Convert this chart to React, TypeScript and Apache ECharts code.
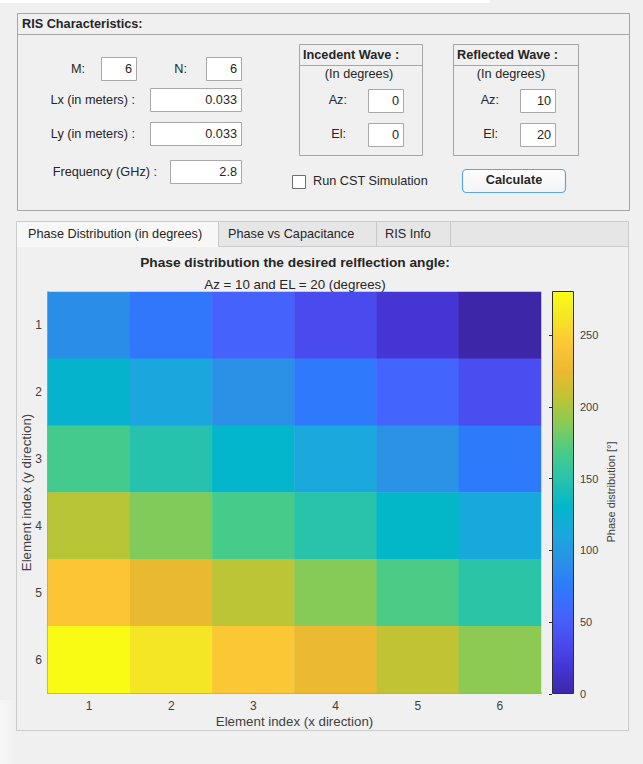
import React, { useEffect, useRef } from "react";
import * as echarts from "echarts";

// Element indices along x (columns) and y (rows, drawn top to bottom)
const X_INDEX = ["1", "2", "3", "4", "5", "6"];
const Y_INDEX = ["1", "2", "3", "4", "5", "6"];

// Phase per element in degrees, one row per y index
const PHASE_ROW_1 = [90.5, 72.4, 54.3, 36.2, 18.1, 0.0];
const PHASE_ROW_2 = [128.4, 110.3, 92.2, 74.1, 56.0, 37.9];
const PHASE_ROW_3 = [166.3, 148.2, 130.1, 112.0, 93.9, 75.8];
const PHASE_ROW_4 = [204.2, 186.1, 168.0, 149.9, 131.8, 113.8];
const PHASE_ROW_5 = [242.1, 224.0, 205.9, 187.8, 169.7, 151.7];
const PHASE_ROW_6 = [280.0, 261.9, 243.9, 225.8, 207.7, 189.6];
const PHASE_ROWS = [PHASE_ROW_1, PHASE_ROW_2, PHASE_ROW_3, PHASE_ROW_4, PHASE_ROW_5, PHASE_ROW_6];

// Colour bar range and ticks
const PHASE_MIN = 0;
const PHASE_MAX = 280;
const PHASE_TICK_STEP = 50;

// Parula-like colour ramp, low to high
const PARULA = [
  "#3e26a8", "#4535d5", "#4a4cf0", "#4465fd", "#2d7afc", "#2a92e6",
  "#1aa8dd", "#02b6ca", "#28c3ab", "#47cb8a", "#83cb5a", "#bbc535",
  "#e9b930", "#fdc536", "#f4e425", "#f9fb15",
];

// Form field values
const M_VALUE = "6";
const N_VALUE = "6";
const LX_VALUE = "0.033";
const LY_VALUE = "0.033";
const FREQ_VALUE = "2.8";
const INC_AZ = "0";
const INC_EL = "0";
const REF_AZ = "10";
const REF_EL = "20";

const FONT = "'Liberation Sans', Arial, Helvetica, sans-serif";
const TXT = "#262626";
const UI_SIZE = 12.7;
const AX_SIZE = 13.3;

type Align = "left" | "right" | "center";

function label(x: number, y: number, text: string, align: Align = "left", bold = false, size = UI_SIZE, fill = TXT) {
  return {
    type: "text",
    x,
    y,
    z: 10,
    style: {
      text,
      fontFamily: FONT,
      fontSize: size,
      fontWeight: bold ? "bold" : "normal",
      fill,
      align,
      verticalAlign: "middle",
    },
  };
}

function field(x: number, y: number, w: number, value: string) {
  return [
    {
      type: "rect",
      z: 5,
      shape: { x: x + 0.5, y: y + 0.5, width: w, height: 23 },
      style: { fill: "#ffffff", stroke: "#a9a9a9", lineWidth: 1 },
    },
    label(x + w - 4, y + 12, value, "right"),
  ];
}

function box(x: number, y: number, w: number, h: number, stroke = "#a5a5a5", fill = "none", z = 2) {
  return {
    type: "rect",
    z,
    shape: { x: x + 0.5, y: y + 0.5, width: w, height: h },
    style: { fill, stroke, lineWidth: 1 },
  };
}

function hline(x1: number, x2: number, y: number, stroke = "#a5a5a5", z = 3) {
  return {
    type: "line",
    z,
    shape: { x1, y1: y + 0.5, x2, y2: y + 0.5 },
    style: { stroke, lineWidth: 1 },
  };
}

function vline(x: number, y1: number, y2: number, stroke = "#c8c8c8", z = 3) {
  return {
    type: "line",
    z,
    shape: { x1: x + 0.5, y1, x2: x + 0.5, y2 },
    style: { stroke, lineWidth: 1 },
  };
}

function buildGraphics() {
  const g: any[] = [];
  // thin white strip along the top edge
  g.push({ type: "rect", z: 1, shape: { x: 0, y: 0, width: 490, height: 3 }, style: { fill: "#ffffff" } });
  // soft light strip along the lower left edge
  g.push({
    type: "rect",
    z: 1,
    shape: { x: 0, y: 700, width: 16, height: 64 },
    style: {
      fill: new echarts.graphic.LinearGradient(0, 0, 1, 0, [
        { offset: 0, color: "#f6f7fa" },
        { offset: 1, color: "#f0f0f0" },
      ]),
    },
  });

  // RIS characteristics panel
  g.push(box(17, 13, 612, 197));
  g.push(hline(17.5, 629.5, 34));
  g.push(label(22, 24, "RIS Characteristics:", "left", true));

  g.push(label(85, 69, "M:", "right"));
  g.push(...field(101, 57, 35, M_VALUE));
  g.push(label(187, 69, "N:", "right"));
  g.push(...field(206, 57, 35, N_VALUE));
  g.push(label(135, 100, "Lx (in meters) :", "right"));
  g.push(...field(150, 88, 91, LX_VALUE));
  g.push(label(135, 134, "Ly (in meters) :", "right"));
  g.push(...field(150, 122, 91, LY_VALUE));
  g.push(label(157, 172, "Frequency (GHz) :", "right"));
  g.push(...field(170, 160, 71, FREQ_VALUE));

  // incident wave sub-panel
  g.push(box(299, 44, 123, 111));
  g.push(hline(299.5, 422.5, 65));
  g.push(label(303, 55, "Incedent Wave :", "left", true));
  g.push(label(359, 74, "(In degrees)", "center"));
  g.push(label(347, 100, "Az:", "right"));
  g.push(...field(368, 89, 35, INC_AZ));
  g.push(label(346, 134, "El:", "right"));
  g.push(...field(368, 123, 35, INC_EL));

  // reflected wave sub-panel
  g.push(box(453, 44, 125, 111));
  g.push(hline(453.5, 578.5, 65));
  g.push(label(457, 55, "Reflected Wave :", "left", true));
  g.push(label(511, 74, "(In degrees)", "center"));
  g.push(label(499, 100, "Az:", "right"));
  g.push(...field(520, 89, 35, REF_AZ));
  g.push(label(498, 134, "El:", "right"));
  g.push(...field(520, 123, 35, REF_EL));

  // checkbox and button
  g.push(box(292, 175, 13, 13, "#6f6f6f", "#ffffff", 5));
  g.push(label(313, 181, "Run CST Simulation", "left"));
  g.push({
    type: "rect",
    z: 5,
    shape: { x: 462.5, y: 169.5, width: 103, height: 23, r: 4 },
    style: {
      fill: new echarts.graphic.LinearGradient(0, 0, 0, 1, [
        { offset: 0, color: "#fdfdfd" },
        { offset: 1, color: "#f4f4f4" },
      ]),
      stroke: "#5da6e3",
      lineWidth: 1.2,
    },
  });
  g.push(label(514, 180, "Calculate", "center", true));

  // tab group
  g.push({ type: "rect", z: 1, shape: { x: 17, y: 222, width: 611, height: 24 }, style: { fill: "#e6e6e6" } });
  g.push({ type: "rect", z: 1, shape: { x: 17, y: 222, width: 201, height: 25 }, style: { fill: "#f7f7f7" } });
  g.push(box(16, 221, 612, 509, "#cbcbcb", "none", 2));
  g.push(hline(218, 628.5, 246, "#cbcbcb"));
  g.push(vline(218, 221.5, 246.5));
  g.push(vline(376, 221.5, 246.5));
  g.push(vline(450, 221.5, 246.5));
  g.push(label(28, 234, "Phase Distribution (in degrees)", "left"));
  g.push(label(228, 234, "Phase vs Capacitance", "left"));
  g.push(label(385, 234, "RIS Info", "left"));

  // colour bar frame
  g.push({
    type: "rect",
    z: 100,
    shape: { x: 552.5, y: 291.5, width: 21, height: 402 },
    style: { fill: "none", stroke: "#2f2f2f", lineWidth: 1 },
  });
  // colour bar caption
  g.push({
    type: "text",
    x: 611,
    y: 492,
    rotation: Math.PI / 2,
    z: 10,
    style: {
      text: "Phase distribution [°]",
      fontFamily: FONT,
      fontSize: 11,
      fill: "#404040",
      align: "center",
      verticalAlign: "middle",
    },
  });
  return g;
}

export default function App() {
  const ref = useRef<HTMLDivElement>(null);

  useEffect(() => {
    if (!ref.current) return;
    const chart = echarts.init(ref.current, undefined, { renderer: "svg" });

    const cells: [number, number, number][] = [];
    PHASE_ROWS.forEach((row, r) => row.forEach((v, c) => cells.push([c, r, v])));

    const axisText = { color: "#404040", fontFamily: FONT, fontSize: 12 };
    const nameText = { color: "#404040", fontFamily: FONT, fontSize: AX_SIZE };

    chart.setOption({
      animation: false,
      backgroundColor: "#f0f0f0",
      textStyle: { fontFamily: FONT },
      title: {
        text: "Phase distribution the desired relflection angle:",
        subtext: "Az = 10 and EL = 20 (degrees)",
        left: 295,
        top: 255,
        textAlign: "center",
        padding: 0,
        itemGap: 9,
        textStyle: { fontFamily: FONT, fontSize: 13.7, fontWeight: "bold", color: "#262626" },
        subtextStyle: { fontFamily: FONT, fontSize: AX_SIZE, color: "#262626" },
      },
      grid: [
        { left: 48, top: 292, width: 493, height: 401 },
        { left: 552, top: 292, width: 22, height: 402 },
      ],
      xAxis: [
        {
          type: "category",
          gridIndex: 0,
          data: X_INDEX,
          name: "Element index (x direction)",
          nameLocation: "middle",
          nameGap: 22,
          nameMoveOverlap: false,
          nameTextStyle: nameText,
          axisLine: { show: true, lineStyle: { color: "#8a8a8a", width: 1.5 } },
          axisTick: { show: false },
          axisLabel: { ...axisText, margin: 7 },
          splitArea: { show: false },
        },
        { type: "value", gridIndex: 1, min: 0, max: 1, show: false },
      ],
      yAxis: [
        {
          type: "category",
          gridIndex: 0,
          data: Y_INDEX,
          inverse: true,
          name: "Element index (y direction)",
          nameLocation: "middle",
          nameGap: 15,
          nameMoveOverlap: false,
          nameTextStyle: nameText,
          axisLine: { show: true, lineStyle: { color: "#8a8a8a", width: 1.5 } },
          axisTick: { show: false },
          axisLabel: { ...axisText, margin: 6 },
          splitArea: { show: false },
        },
        {
          type: "value",
          gridIndex: 1,
          position: "right",
          min: PHASE_MIN,
          max: PHASE_MAX,
          interval: PHASE_TICK_STEP,
          axisLine: { show: false },
          axisTick: { show: true, inside: true, length: 3, lineStyle: { color: "#2f2f2f" } },
          axisLabel: { color: "#404040", fontFamily: FONT, fontSize: 11, margin: 6, showMaxLabel: false },
          splitLine: { show: false },
        },
      ],
      visualMap: {
        type: "continuous",
        seriesIndex: 0,
        min: PHASE_MIN,
        max: PHASE_MAX,
        calculable: false,
        hoverLink: false,
        orient: "vertical",
        left: 552,
        top: 292,
        padding: 0,
        itemWidth: 22,
        itemHeight: 402,
        text: null,
        inRange: { color: PARULA },
      },
      series: [
        {
          type: "heatmap",
          xAxisIndex: 0,
          yAxisIndex: 0,
          data: cells,
          itemStyle: { borderWidth: 0 },
          emphasis: { disabled: true },
        },
        { type: "scatter", xAxisIndex: 1, yAxisIndex: 1, data: [] },
      ],
      graphic: buildGraphics(),
    });

    return () => chart.dispose();
  }, []);

  return (
    <div
      ref={ref}
      style={{ position: "absolute", left: 0, top: 0, width: 643, height: 764 }}
    />
  );
}
